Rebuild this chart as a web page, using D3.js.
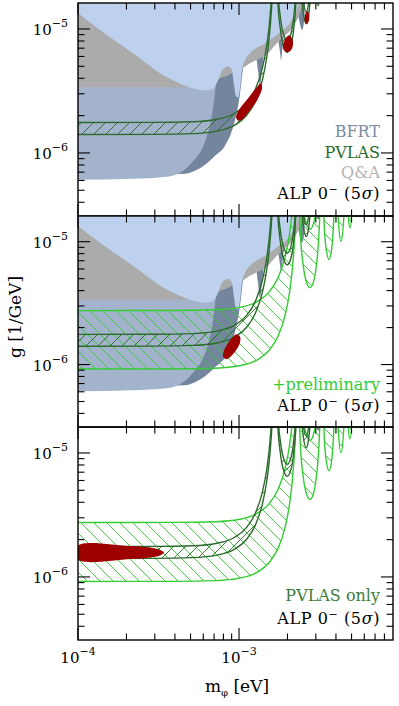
<!DOCTYPE html>
<html><head><meta charset="utf-8">
<script src="https://cdn.jsdelivr.net/npm/d3@7"></script>
<style>body{margin:0;background:#fff}svg{display:block}text{font-family:"DejaVu Serif",serif}</style>
</head><body><svg id="c" width="399" height="706"></svg>
<script>
// ---------- data (m in eV, g in 1/GeV) ----------
const xMajorTicks = [1e-4, 1e-3];
const xTickLabels = ["\u22124", "\u22123"];
const xMinorTicks = [2e-4,3e-4,4e-4,5e-4,6e-4,7e-4,8e-4,9e-4,2e-3,3e-3,4e-3,5e-3,6e-3,7e-3,8e-3];
const yMajorTicks = [1e-6, 1e-5];
const yTickLabels = ["\u22126", "\u22125"];
const yMinorTicks = [4e-7,5e-7,6e-7,7e-7,8e-7,9e-7,2e-6,3e-6,4e-6,5e-6,6e-6,7e-6,8e-6,9e-6];

// background exclusion boundaries (region above boundary is excluded)
const bfrtBoundary = [[1e-4,6.54e-7],[4.619e-4,6.79e-7],[5.331e-4,7.18e-7],[6.150e-4,8.03e-7],[7.095e-4,9.50e-7],[8.185e-4,1.145e-6],[9.049e-4,1.515e-6],[9.582e-4,2.00e-6],[1.000e-3,2.65e-6],[1.029e-3,3.51e-6],[1.059e-3,4.82e-6],[1.121e-3,6.14e-6],[1.222e-3,6.49e-6],[1.275e-3,6.03e-6],[1.312e-3,4.64e-6],[1.350e-3,3.51e-6],[1.390e-3,4.64e-6],[1.430e-3,6.25e-6],[1.603e-3,7.54e-6],[1.747e-3,7.97e-6],[1.798e-3,6.49e-6],[1.824e-3,5.59e-6],[1.850e-3,6.49e-6],[1.903e-3,8.59e-6],[2.134e-3,1.055e-5],[2.326e-3,1.271e-5],[2.393e-3,1.095e-5],[2.462e-3,9.79e-6],[2.533e-3,1.136e-5],[2.570e-3,1.62e-5]];
const bfrt2Boundary = [[1e-4,6.07e-7],[2.196e-4,6.18e-7],[3.571e-4,6.42e-7],[4.301e-4,6.92e-7],[4.823e-4,7.74e-7],[5.331e-4,8.98e-7],[5.892e-4,1.083e-6],[6.328e-4,1.379e-6],[6.701e-4,1.826e-6],[6.994e-4,2.65e-6],[7.197e-4,3.71e-6],[7.406e-4,5.59e-6],[7.621e-4,1.62e-5]];
const qaBoundary = [[1e-4,3.38e-6],[6.994e-4,3.38e-6],[7.302e-4,3.71e-6],[7.621e-4,4.00e-6],[8.305e-4,4.15e-6],[9.049e-4,4.39e-6],[9.858e-4,4.64e-6],[1.074e-3,4.91e-6],[1.170e-3,5.29e-6],[1.275e-3,5.59e-6],[1.390e-3,5.91e-6],[1.514e-3,6.37e-6],[1.650e-3,7.26e-6],[1.772e-3,7.97e-6],[1.903e-3,8.75e-6],[2.074e-3,9.61e-6],[2.196e-3,1.074e-5],[2.326e-3,1.224e-5],[2.427e-3,1.421e-5],[2.497e-3,1.62e-5]];
const blueBoundary = [[1e-4,1.344e-5],[1.370e-4,9.79e-6],[2.196e-4,6.37e-6],[3.571e-4,4.07e-6],[4.301e-4,3.64e-6],[5.180e-4,3.32e-6],[6.150e-4,3.19e-6],[6.797e-4,3.26e-6],[7.095e-4,3.44e-6],[7.406e-4,3.85e-6],[7.842e-4,4.64e-6],[8.546e-4,5.00e-6],[9.049e-4,4.64e-6],[9.309e-4,3.51e-6],[9.582e-4,2.86e-6],[9.858e-4,2.80e-6],[1.0144e-3,3.32e-6],[1.044e-3,4.64e-6],[1.090e-3,5.59e-6],[1.170e-3,6.37e-6],[1.451e-3,7.68e-6],[1.798e-3,9.43e-6],[2.074e-3,1.115e-5],[2.259e-3,1.369e-5],[2.359e-3,1.62e-5]];

// PVLAS band: [m, gLow, gHigh]
const pvlasRise = [[1.0e-4,1.41e-6,1.76e-6],[3.0e-4,1.413e-6,1.764e-6],[5.15e-4,1.431e-6,1.786e-6],[7.29e-4,1.499e-6,1.871e-6],[9.4e-4,1.675e-6,2.091e-6],[1.112e-3,2.004e-6,2.501e-6],[1.261e-3,2.606e-6,3.252e-6],[1.394e-3,3.837e-6,4.789e-6],[1.486e-3,5.89e-6,7.35e-6],[1.559e-3,1.015e-5,1.267e-5],[1.615e-3,2.186e-5,2.728e-5],[1.641e-3,4.70e-5,5.86e-5],[1.655e-3,1.05e-4,1.313e-4]];
const pvlasLobe1 = [[1.682e-3,7.73e-5,9.64e-5],[1.733e-3,1.875e-5,2.34e-5],[1.809e-3,9.84e-6,1.228e-5],[1.904e-3,7.06e-6,8.82e-6],[1.992e-3,6.49e-6,8.10e-6],[2.081e-3,7.04e-6,8.78e-6],[2.164e-3,8.98e-6,1.121e-5],[2.244e-3,1.459e-5,1.822e-5],[2.302e-3,3.03e-5,3.78e-5],[2.331e-3,6.53e-5,8.15e-5],[2.35e-3,2.65e-4,3.31e-4]];
const pvlasLobe2 = [[2.378e-3,7.74e-5,9.66e-5],[2.433e-3,2.34e-5,2.92e-5],[2.505e-3,1.373e-5,1.714e-5],[2.613e-3,1.10e-5,1.373e-5],[2.708e-3,1.297e-5,1.619e-5],[2.788e-3,2.115e-5,2.64e-5],[2.836e-3,4.02e-5,5.02e-5],[2.867e-3,1.053e-4,1.315e-4]];
const pvlasLobe3 = [[2.912e-3,7.77e-5,9.70e-5],[2.972e-3,2.59e-5,3.24e-5],[3.104e-3,1.541e-5,1.924e-5],[3.229e-3,2.38e-5,2.97e-5],[3.297e-3,6.58e-5,8.22e-5],[3.324e-3,2.65e-4,3.31e-4]];

// preliminary band: [m, gLow, gHigh]
const prelimRise = [[1.0e-4,9.2e-7,2.75e-6],[4.0e-4,9.21e-7,2.754e-6],[7.13e-4,9.34e-7,2.791e-6],[1.009e-3,9.78e-7,2.923e-6],[1.302e-3,1.093e-6,3.267e-6],[1.540e-3,1.307e-6,3.908e-6],[1.747e-3,1.700e-6,5.082e-6],[1.931e-3,2.503e-6,7.483e-6],[2.058e-3,3.843e-6,1.149e-5],[2.159e-3,6.62e-6,1.98e-5],[2.237e-3,1.426e-5,4.26e-5],[2.273e-3,3.06e-5,9.16e-5],[2.293e-3,6.86e-5,2.05e-4]];
const prelimLobe1 = [[2.329e-3,5.04e-5,1.507e-4],[2.401e-3,1.224e-5,3.66e-5],[2.505e-3,6.42e-6,1.92e-5],[2.637e-3,4.61e-6,1.378e-5],[2.759e-3,4.23e-6,1.265e-5],[2.883e-3,4.59e-6,1.372e-5],[2.997e-3,5.86e-6,1.752e-5],[3.108e-3,9.52e-6,2.85e-5],[3.189e-3,1.978e-5,5.91e-5],[3.229e-3,4.26e-5,1.273e-4],[3.255e-3,1.73e-4,5.17e-4]];
const prelimLobe2 = [[3.294e-3,5.05e-5,1.51e-4],[3.370e-3,1.527e-5,4.57e-5],[3.470e-3,8.96e-6,2.68e-5],[3.620e-3,7.18e-6,2.145e-5],[3.751e-3,8.46e-6,2.53e-5],[3.862e-3,1.38e-5,4.13e-5],[3.928e-3,2.62e-5,7.84e-5],[3.971e-3,6.87e-5,2.05e-4]];
const prelimLobe3 = [[4.034e-3,5.07e-5,1.515e-4],[4.117e-3,1.693e-5,5.06e-5],[4.299e-3,1.006e-5,3.0e-5],[4.472e-3,1.555e-5,4.65e-5],[4.566e-3,4.30e-5,1.284e-4],[4.604e-3,1.73e-4,5.17e-4]];
const prelimLobe4 = [[4.659e-3,5.09e-5,1.52e-4],[4.748e-3,1.785e-5,5.34e-5],[4.884e-3,1.294e-5,3.87e-5],[5.026e-3,1.895e-5,5.67e-5],[5.109e-3,4.66e-5,1.394e-4]];
const prelimLobe5 = [[5.208e-3,5.12e-5,1.53e-4],[5.289e-3,2.13e-5,6.4e-5],[5.412e-3,1.59e-5,4.76e-5],[5.539e-3,2.45e-5,7.3e-5],[5.616e-3,6.9e-5,2.06e-4]];

// ALP 0- (5 sigma) allowed regions
const alpTop1 = [[1.370e-3,3.64e-6],[1.390e-3,3.32e-6],[1.294e-3,2.65e-6],[1.154e-3,2.16e-6],[1.044e-3,1.86e-6],[9.86e-4,1.826e-6],[9.58e-4,1.967e-6],[1.014e-3,2.28e-6],[1.137e-3,2.75e-6],[1.275e-3,3.32e-6]];
const alpTop2 = [[2.045e-3,8.92e-6],[2.134e-3,8.43e-6],[2.165e-3,7.54e-6],[2.104e-3,6.74e-6],[1.987e-3,6.49e-6],[1.903e-3,6.74e-6],[1.876e-3,7.40e-6],[1.931e-3,8.28e-6]];
const alpTop3 = [[2.645e-3,1.395e-5],[2.722e-3,1.319e-5],[2.722e-3,1.179e-5],[2.645e-3,1.095e-5],[2.570e-3,1.136e-5],[2.570e-3,1.295e-5]];
const alpMid = [[9.58e-4,1.759e-6],[1.014e-3,1.694e-6],[1.014e-3,1.515e-6],[9.58e-4,1.305e-6],[8.79e-4,1.145e-6],[8.31e-4,1.103e-6],[7.96e-4,1.166e-6],[8.18e-4,1.354e-6],[8.79e-4,1.572e-6]];
const alpBot = [[1e-4,1.792e-6],[2.104e-4,1.775e-6],[2.801e-4,1.727e-6],[3.232e-4,1.648e-6],[3.42e-4,1.572e-6],[3.232e-4,1.486e-6],[2.801e-4,1.432e-6],[2.104e-4,1.393e-6],[1e-4,1.380e-6]];

// ---------- layout ----------
const L = 78, R = 393;
const panels = [{top:3, bot:216}, {top:216, bot:427}, {top:427, bot:640}];
const C = {blue:'#bdd1ee', mid:'#a3b3cb', gray:'#ababab', slate:'#74859e', dark:'#2d6b2d', bright:'#33cc33', red:'#9e0000'};

const svg = d3.select('#c');
const defs = svg.append('defs');
defs.append('pattern').attr('id','hDark').attr('patternUnits','userSpaceOnUse').attr('width',12).attr('height',12)
  .append('path').attr('d','M-3,3L3,-3M0,12L12,0M9,15L15,9').attr('stroke',C.dark).attr('stroke-width',0.9);
defs.append('pattern').attr('id','hBright').attr('patternUnits','userSpaceOnUse').attr('width',13).attr('height',13)
  .append('path').attr('d','M-3,10L3,16M0,0L13,13M10,-3L16,3').attr('stroke',C.bright).attr('stroke-width',0.9);

const x = d3.scaleLog().domain([1e-4, 9.045e-3]).range([L, R]);
const yDom = [3.1e-7, 1.62e-5];

function region(g, ys, data, color){
  const a = d3.area().x(d=>x(d[0])).y0(ys(1e-3)).y1(d=>ys(d[1])).curve(d3.curveMonotoneX);
  g.append('path').attr('d', a(data)).attr('fill', color);
}
function band(g, ys, segs, pat, col){
  const a = d3.area().x(d=>x(d[0])).y0(d=>ys(d[1])).y1(d=>ys(d[2])).curve(d3.curveMonotoneX);
  const lo = d3.line().x(d=>x(d[0])).y(d=>ys(d[1])).curve(d3.curveMonotoneX);
  const hi = d3.line().x(d=>x(d[0])).y(d=>ys(d[2])).curve(d3.curveMonotoneX);
  segs.forEach(s=>{
    g.append('path').attr('d', a(s)).attr('fill', `url(#${pat})`);
    g.append('path').attr('d', lo(s)).attr('fill','none').attr('stroke',col).attr('stroke-width',1.4);
    g.append('path').attr('d', hi(s)).attr('fill','none').attr('stroke',col).attr('stroke-width',1.4);
  });
}
function blob(g, ys, data){
  const l = d3.line().x(d=>x(d[0])).y(d=>ys(d[1])).curve(d3.curveCatmullRomClosed.alpha(0.5));
  g.append('path').attr('d', l(data)).attr('fill', C.red);
}

const pvlasSegs = [pvlasRise, pvlasLobe1, pvlasLobe2, pvlasLobe3];
const prelimSegs = [prelimRise, prelimLobe1, prelimLobe2, prelimLobe3, prelimLobe4, prelimLobe5];

panels.forEach((p, i)=>{
  const ys = d3.scaleLog().domain(yDom).range([p.bot, p.top]);
  defs.append('clipPath').attr('id','cp'+i).append('rect').attr('x',L).attr('y',p.top).attr('width',R-L).attr('height',p.bot-p.top);
  const g = svg.append('g').attr('clip-path',`url(#cp${i})`);
  if (i < 2) {
    region(g, ys, bfrtBoundary, C.slate);
    region(g, ys, bfrt2Boundary, C.mid);
    region(g, ys, qaBoundary, C.gray);
    region(g, ys, blueBoundary, C.blue);
  }
  if (i > 0) band(g, ys, prelimSegs, 'hBright', C.bright);
  band(g, ys, pvlasSegs, 'hDark', C.dark);
  if (i === 0) { blob(g, ys, alpTop1); blob(g, ys, alpTop2); blob(g, ys, alpTop3); }
  if (i === 1) blob(g, ys, alpMid);
  if (i === 2) blob(g, ys, alpBot);

  // frame & ticks
  const f = svg.append('g').attr('stroke','#000').attr('fill','none');
  f.append('rect').attr('x',L).attr('y',p.top).attr('width',R-L).attr('height',p.bot-p.top).attr('stroke-width',1.4);
  const tk = (x1,y1,x2,y2)=>f.append('line').attr('x1',x1).attr('y1',y1).attr('x2',x2).attr('y2',y2).attr('stroke-width',1.1);
  xMinorTicks.forEach(v=>{ tk(x(v),p.top,x(v),p.top+6.5); tk(x(v),p.bot,x(v),p.bot-6.5); });
  xMajorTicks.forEach(v=>{ tk(x(v),p.top,x(v),p.top+12); tk(x(v),p.bot,x(v),p.bot-12); });
  yMinorTicks.forEach(v=>{ tk(L,ys(v),L+6.5,ys(v)); tk(R,ys(v),R-6.5,ys(v)); });
  yMajorTicks.forEach(v=>{ tk(L,ys(v),L+12,ys(v)); tk(R,ys(v),R-12,ys(v)); });

  // y tick labels
  yMajorTicks.forEach((v,j)=>{
    const t = svg.append('text').attr('x',68).attr('y',ys(v)+6.5).attr('text-anchor','end').attr('font-size',15);
    t.append('tspan').text('10');
    t.append('tspan').attr('dy',-8).attr('font-size',11).text(yTickLabels[j]);
  });
});

// x tick labels
xMajorTicks.forEach((v,j)=>{
  const t = svg.append('text').attr('x',x(v)).attr('y',663).attr('text-anchor','middle').attr('font-size',15);
  t.append('tspan').text('10');
  t.append('tspan').attr('dy',-8).attr('font-size',11).text(xTickLabels[j]);
});

// axis titles
const xt = svg.append('text').attr('x',237).attr('y',692).attr('text-anchor','middle').attr('font-size',17);
xt.append('tspan').text('m');
xt.append('tspan').attr('dy',4).attr('font-size',10).text('\u03c6');
xt.append('tspan').attr('dy',-4).text(' [eV]');
svg.append('text').attr('transform','translate(21,317) rotate(-90)').attr('text-anchor','middle').attr('font-size',17).text('g [1/GeV]');

// legends
function alp(y){
  const t = svg.append('text').attr('x',380).attr('y',y).attr('text-anchor','end').attr('font-size',16).attr('letter-spacing',0.6).attr('fill','#000');
  t.append('tspan').text('ALP 0');
  t.append('tspan').attr('dy',-6).attr('font-size',11).text('\u2212');
  t.append('tspan').attr('dy',6).text(' (5');
  t.append('tspan').attr('font-style','italic').text('\u03c3');
  t.append('tspan').text(')');
}
function lab(txt, y, col){
  svg.append('text').attr('x',380).attr('y',y).attr('text-anchor','end').attr('font-size',16).attr('fill',col).text(txt);
}
lab('BFRT',137,'#7b8ba3'); lab('PVLAS',158,C.dark); lab('Q&A',178,'#b3b3b3'); alp(199);
lab('+preliminary',390,C.bright); alp(411);
lab('PVLAS only',601,'#3d7d3d'); alp(624);
</script></body></html>
